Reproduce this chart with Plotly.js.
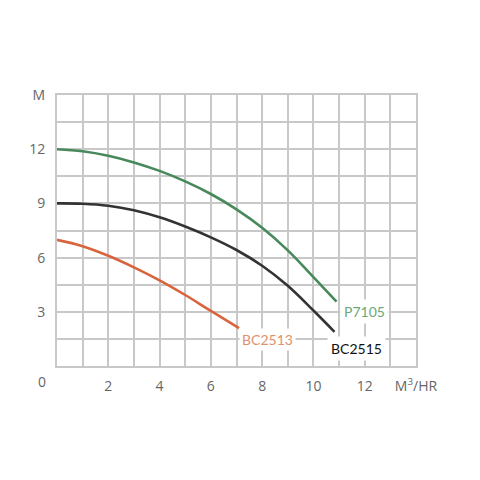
<!DOCTYPE html>
<html><head><meta charset="utf-8">
<script src="https://cdn.plot.ly/plotly-3.0.1.min.js"></script>
<style>html,body{margin:0;padding:0;background:#fff;}#chart{width:480px;height:480px;}</style>
</head><body><div id="chart"></div>
<script>
// Flow (M3/HR) and head (M)
const flowP7105 = [0, 1, 2, 3, 4, 5, 6, 7, 8, 9, 10, 10.9];
const headP7105 = [12, 11.89, 11.64, 11.27, 10.8, 10.22, 9.52, 8.67, 7.65, 6.4, 4.92, 3.56];
const flowBC2515 = [0, 1, 2, 3, 4, 5, 6, 7, 8, 9, 10, 10.82];
const headBC2515 = [9, 8.98, 8.87, 8.62, 8.23, 7.72, 7.12, 6.42, 5.55, 4.44, 3.07, 1.89];
const flowBC2513 = [0, 1, 2, 3, 4, 5, 6, 7.1];
const headBC2513 = [6.98, 6.63, 6.1, 5.46, 4.74, 3.93, 3.05, 2.1];

const xTickVals = [2, 4, 6, 8, 10, 12, 14];
const xTickText = ['2', '4', '6', '8', '10', '12', 'M<sup>3</sup>/HR'];
const yTickVals = [3, 6, 9, 12, 15];
const yTickText = ['3', '6', '9', '12', 'M'];

const seriesNames = ['P7105', 'BC2515', 'BC2513'];
const colors = ['#47895a', '#333333', '#d8643e'];
const labelColors = ['#6aa87a', '#111111', '#e0916c'];

const traces = [
  {x: flowP7105, y: headP7105, name: seriesNames[0]},
  {x: flowBC2515, y: headBC2515, name: seriesNames[1]},
  {x: flowBC2513, y: headBC2513, name: seriesNames[2]}
].map((t, i) => Object.assign(t, {
  type: 'scatter', mode: 'lines',
  line: {color: colors[i], width: 2.6, shape: 'spline', smoothing: 1.1},
  hoverinfo: 'skip'
}));

const gridColor = '#c8c8c8';
const axisCommon = {
  showgrid: true, gridcolor: gridColor, gridwidth: 2,
  showline: true, linecolor: gridColor, linewidth: 2, mirror: true,
  zeroline: false, ticks: '',
  tickfont: {size: 14, color: '#666'}
};
const layout = {
  width: 480, height: 480,
  margin: {l: 57, r: 64, t: 95, b: 114},
  paper_bgcolor: '#fff', plot_bgcolor: '#fff',
  showlegend: false,
  font: {family: 'Open Sans, sans-serif', color: '#666', size: 14},
  xaxis: Object.assign({}, axisCommon, {
    range: [0, 14], tickvals: xTickVals, ticktext: xTickText, ticklabelstandoff: 6,
    minor: {dtick: 1, tick0: 0, showgrid: true, gridcolor: gridColor, gridwidth: 2, ticks: ''}
  }),
  yaxis: Object.assign({}, axisCommon, {
    range: [0, 15], tickvals: yTickVals, ticktext: yTickText, ticklabelstandoff: 7,
    minor: {dtick: 1.5, tick0: 0, showgrid: true, gridcolor: gridColor, gridwidth: 2, ticks: ''}
  }),
  annotations: [
    {text: '0', xref: 'paper', yref: 'paper', x: -0.042, y: -0.057, showarrow: false,
     font: {size: 14, color: '#666'}, xanchor: 'center', yanchor: 'middle'},
    {text: seriesNames[0], xref: 'x', yref: 'y', x: 12.0, y: 3.0, showarrow: false,
     font: {size: 14, color: labelColors[0], family: 'Lato, sans-serif'}, bgcolor: '#fff', borderpad: 3},
    {text: seriesNames[1], xref: 'x', yref: 'y', x: 11.67, y: 0.96, showarrow: false,
     font: {size: 14, color: labelColors[1], family: 'Lato, sans-serif'}, bgcolor: '#fff', borderpad: 3},
    {text: seriesNames[2], xref: 'x', yref: 'y', x: 8.21, y: 1.47, showarrow: false,
     font: {size: 14, color: labelColors[2], family: 'Lato, sans-serif'}, bgcolor: '#fff', borderpad: 2}
  ]
};

Plotly.newPlot('chart', traces, layout, {displayModeBar: false, staticPlot: true});
</script></body></html>
